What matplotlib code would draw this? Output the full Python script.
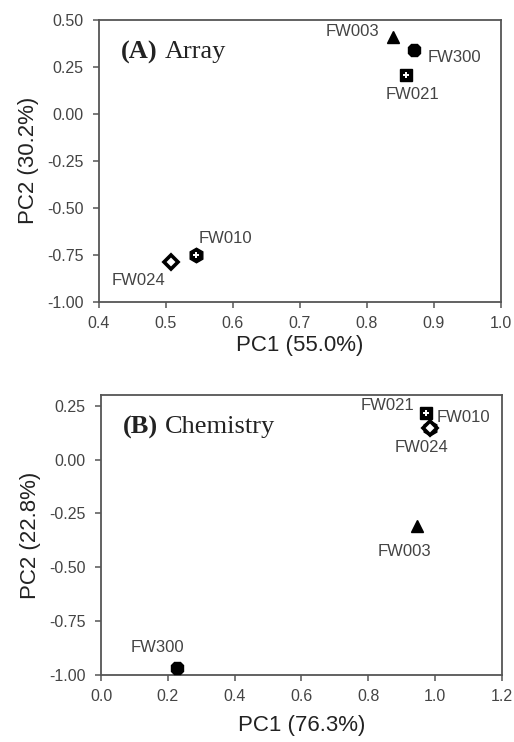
import matplotlib
matplotlib.use("Agg")
import matplotlib.pyplot as plt
from matplotlib.ticker import FormatStrFormatter

# sample names and PCA scores
names = ["FW003", "FW300", "FW021", "FW010", "FW024"]
array_pc1 = [0.839, 0.870, 0.858, 0.545, 0.507]
array_pc2 = [0.405, 0.340, 0.205, -0.752, -0.788]
chem_pc1 = [0.946, 0.228, 0.973, 0.985, 0.985]
chem_pc2 = [-0.306, -0.968, 0.218, 0.146, 0.146]

# label offsets (points) per panel
OFF_A = {"FW003": (-29, 4), "FW300": (29, -6), "FW021": (5, -14), "FW010": (21, 12), "FW024": (-23, -13)}
OFF_B = {"FW003": (-9, -19), "FW300": (-14, 15), "FW021": (-28, 5), "FW010": (24, 8), "FW024": (-6, -14)}

GREY = "#555555"
TXT = "#444444"
plt.rcParams["font.family"] = ["Liberation Sans", "DejaVu Sans"]


def draw_marker(ax, name, x, y):
    if name == "FW003":
        ax.plot(x, y, "^", ms=8.5, color="black", zorder=3)
    elif name == "FW300":
        ax.plot(x, y, "8", ms=9.5, color="black", zorder=3)
    elif name == "FW021":
        ax.plot(x, y, "s", ms=8.5, color="black", zorder=3)
        ax.plot(x, y, "P", ms=4.5, color="white", mew=0, zorder=4)
    elif name == "FW010":
        ax.plot(x, y, "h", ms=10.5, color="black", zorder=3)
        ax.plot(x, y, "P", ms=4.5, color="white", mew=0, zorder=4)
    elif name == "FW024":
        ax.plot(x, y, "D", ms=7, mfc="white", mec="black", mew=2.6, zorder=5)


def panel(ax, xs, ys, offs, tag, title, xlab, ylab, xlim, xticks, ylim, yticks, xpad):
    for n, x, y in zip(names, xs, ys):
        draw_marker(ax, n, x, y)
        ax.annotate(n, (x, y), textcoords="offset points", xytext=offs[n],
                    ha="center", va="center", fontsize=12, color=TXT)
    ax.set_xlim(*xlim); ax.set_ylim(*ylim)
    ax.set_xticks(xticks); ax.set_yticks(yticks)
    ax.xaxis.set_major_formatter(FormatStrFormatter("%.1f"))
    ax.yaxis.set_major_formatter(FormatStrFormatter("%.2f"))
    for s in ax.spines.values():
        s.set_color(GREY); s.set_linewidth(1.3)
    ax.tick_params(direction="out", length=4, width=1.1, color=GREY, labelcolor=TXT, labelsize=11.5)
    ax.tick_params(axis="x", pad=6)
    ax.tick_params(axis="y", pad=7)
    ax.set_xlabel(xlab, fontsize=16, color="#222222", labelpad=xpad)
    ax.set_ylabel(ylab, fontsize=16, color="#222222", labelpad=6)
    t = ax.text(0.055, 0.885, tag, transform=ax.transAxes, fontsize=19, fontweight="bold",
                family="Liberation Serif", color="#222222", va="center", ha="left")
    ax.annotate(title, xy=(1, 0.5), xycoords=t, xytext=(5, 0), textcoords="offset points",
                fontsize=19, family="Liberation Serif", color="#222222", va="center", ha="left")


fig = plt.figure(figsize=(5.14, 7.42), dpi=100)
axA = fig.add_axes([0.1926, 0.593, 0.782, 0.3807])
axB = fig.add_axes([0.1965, 0.0903, 0.780, 0.3774])

panel(axA, array_pc1, array_pc2, OFF_A, "(A)", "Array", "PC1 (55.0%)", "PC2 (30.2%)",
      (0.4, 1.0), [0.4, 0.5, 0.6, 0.7, 0.8, 0.9, 1.0],
      (-1.0, 0.5), [-1.0, -0.75, -0.5, -0.25, 0.0, 0.25, 0.5], 3)
panel(axB, chem_pc1, chem_pc2, OFF_B, "(B)", "Chemistry", "PC1 (76.3%)", "PC2 (22.8%)",
      (0.0, 1.2), [0.0, 0.2, 0.4, 0.6, 0.8, 1.0, 1.2],
      (-1.0, 0.3), [-1.0, -0.75, -0.5, -0.25, 0.0, 0.25], 8)

fig.savefig("out.png", dpi=100)
